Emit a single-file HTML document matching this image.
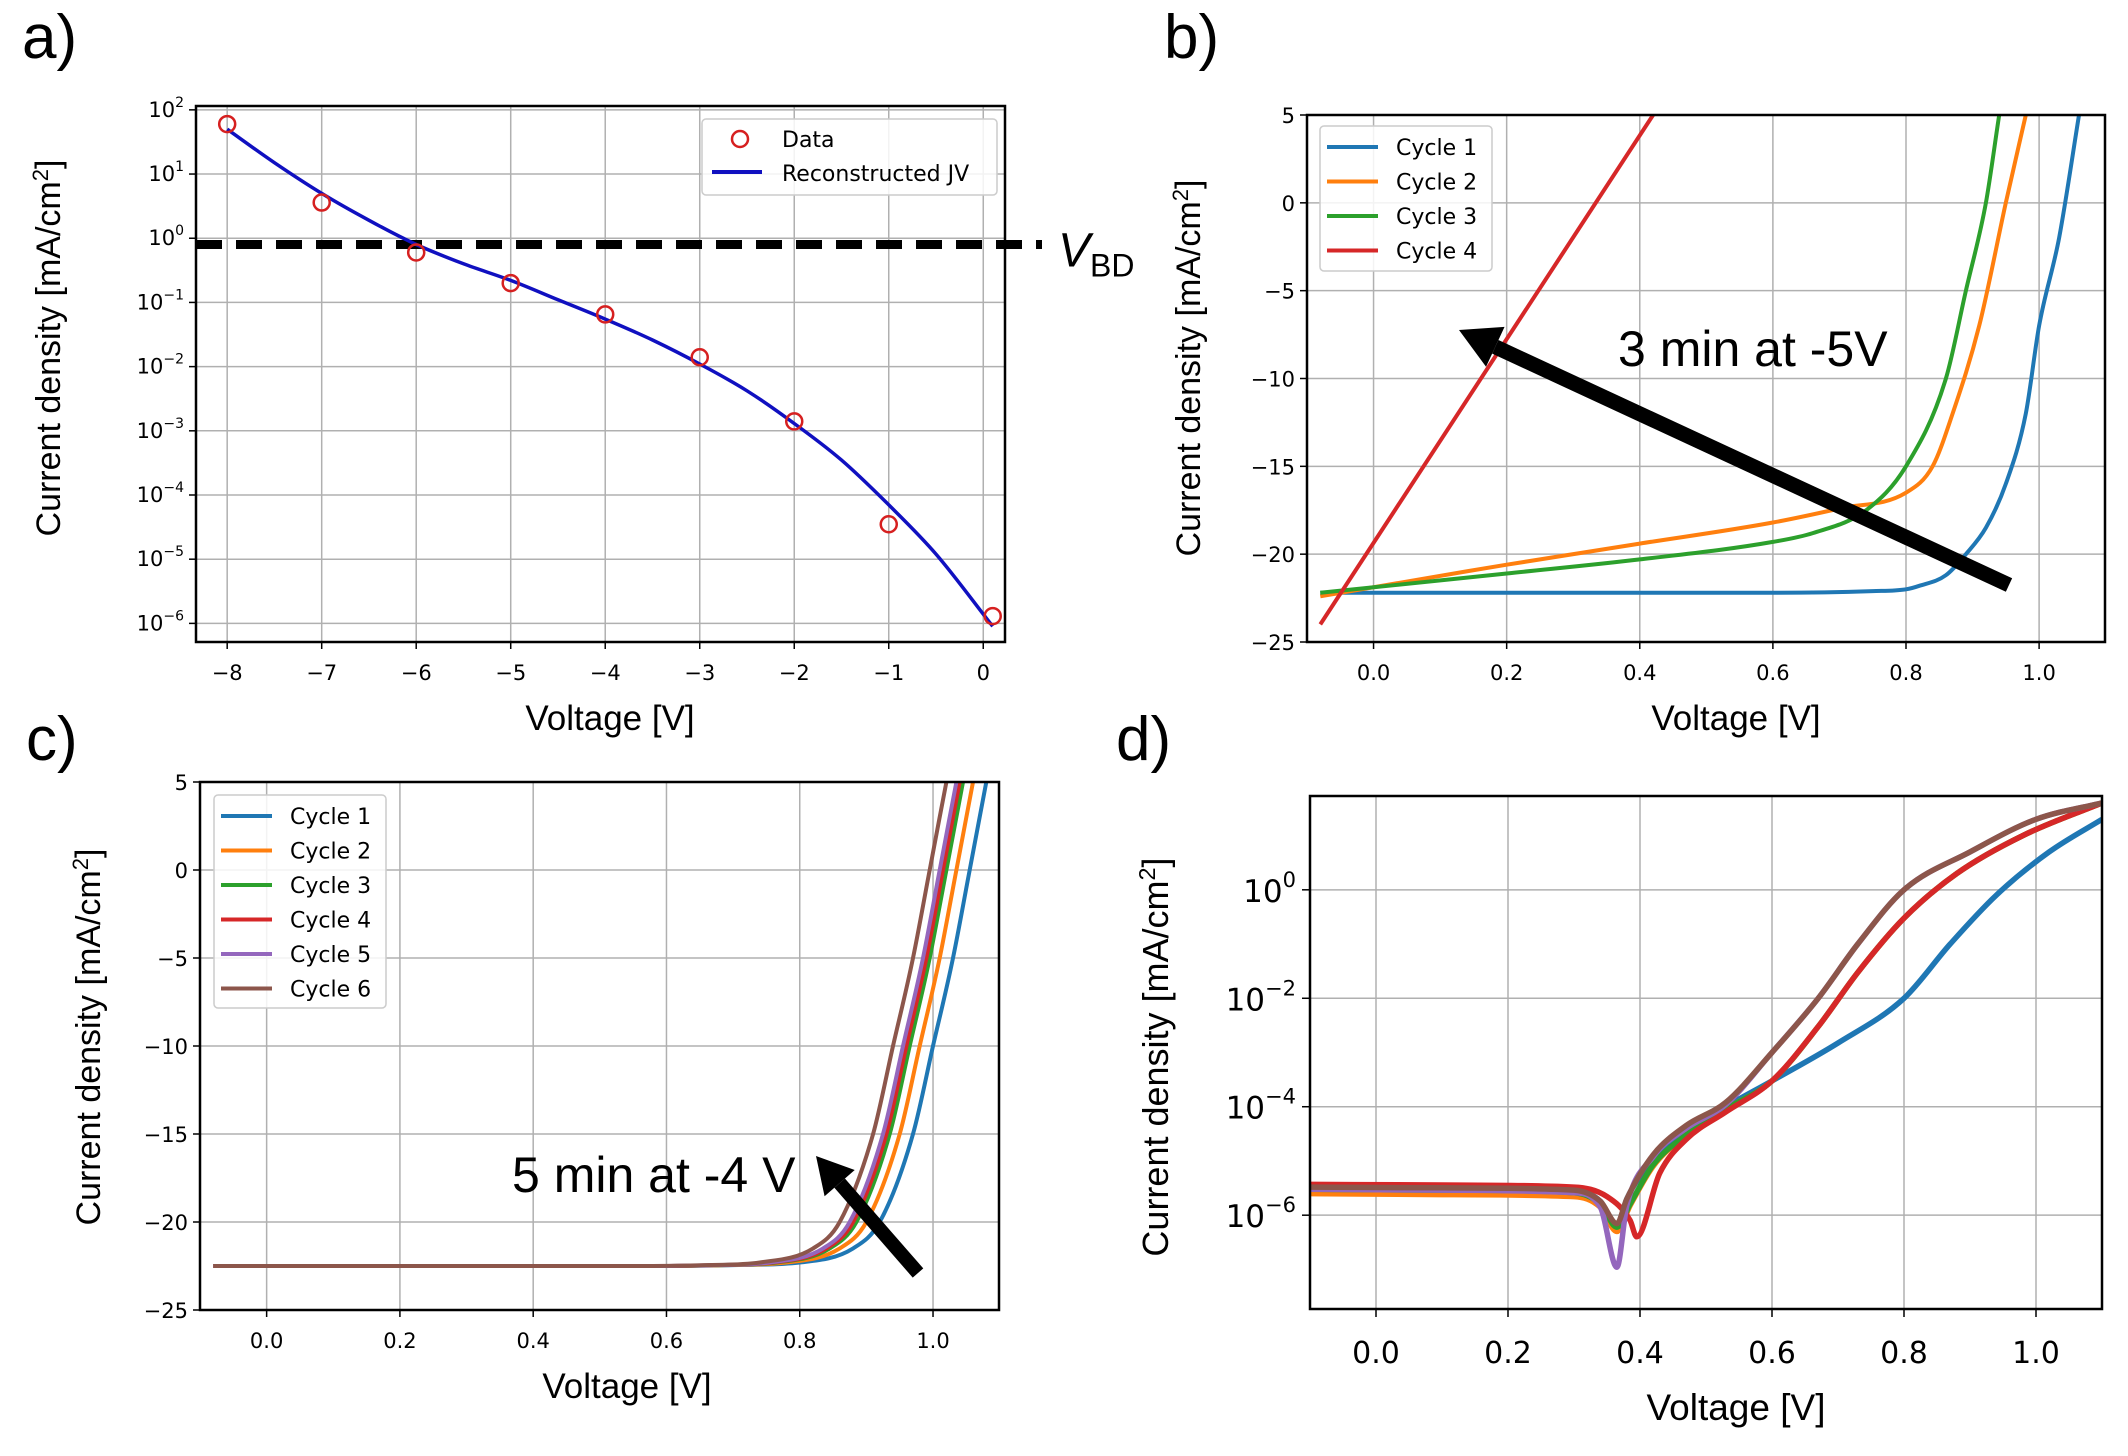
<!DOCTYPE html>
<html><head><meta charset="utf-8"><style>
body{margin:0;background:#fff}
svg{display:block}
text{font-family:"DejaVu Sans","Liberation Sans",sans-serif}
.big{font-family:"Liberation Sans","DejaVu Sans",sans-serif}
</style></head><body>
<svg id="fig" width="2128" height="1456" viewBox="0 0 2128 1456" xmlns="http://www.w3.org/2000/svg"></svg>
<script>
// ---- Panel a data ----
const aDataV = [-8,-7,-6,-5,-4,-3,-2,-1,0.1];
const aDataJ = [60,3.6,0.6,0.2,0.065,0.014,0.0014,3.5e-5,1.3e-6];
const aFitV = [-8,-7.5,-7,-6.5,-6,-5.5,-5,-4.5,-4,-3.5,-3,-2.5,-2,-1.5,-1,-0.5,0.1];
const aFitJ = [50,15,5,1.9,0.8,0.4,0.22,0.11,0.055,0.026,0.011,0.0042,0.0013,0.00035,7e-5,1.2e-5,9e-7];
const aVbd = 0.8;
const aXTicks = [-8,-7,-6,-5,-4,-3,-2,-1,0];
const aYTicks = [2,1,0,-1,-2,-3,-4,-5,-6];
// ---- Panel b data ----
const bV1 = [-0.08,0.2,0.4,0.6,0.75,0.8,0.82,0.86,0.89,0.92,0.95,0.98,1.0,1.03,1.06];
const bJ1 = [-22.2,-22.2,-22.2,-22.2,-22.1,-22.0,-21.8,-21.2,-20,-18.5,-16,-12,-7,-2,5];
const bV2 = [-0.08,0.2,0.4,0.6,0.7,0.8,0.84,0.87,0.91,0.95,0.98];
const bJ2 = [-22.4,-20.6,-19.4,-18.2,-17.4,-16.5,-15,-12,-7,0,5];
const bV3 = [-0.08,0.2,0.4,0.6,0.66,0.74,0.8,0.86,0.89,0.92,0.94];
const bJ3 = [-22.2,-21.1,-20.3,-19.3,-18.8,-17.5,-15,-10,-5,0,5];
const bV4 = [-0.08,0.42];
const bJ4 = [-24,5];
const linTicksX = [0,0.2,0.4,0.6,0.8,1.0];
const linTicksY = [5,0,-5,-10,-15,-20,-25];
// ---- Panel c data ----
const cV = [-0.08,0.3,0.6,0.7,0.8,0.88,0.92,0.97,1.0,1.03,1.055,1.08];
const cJ = [-22.5,-22.5,-22.5,-22.45,-22.3,-21.5,-20,-15,-10,-5,0,5];
const cShift = [0,-0.02,-0.035,-0.04,-0.045,-0.06];
// ---- Panel d data ----
const dV1 = [-0.1,0.1,0.3,0.34,0.365,0.38,0.42,0.47,0.53,0.6,0.7,0.8,0.87,0.94,1.02,1.1];
const dJ1 = [3.2e-6,3.1e-6,2.8e-6,1.8e-6,6e-7,2e-6,1e-5,3.5e-5,1e-4,3e-4,1.5e-3,1e-2,0.1,0.8,5,20];
const dV2 = [-0.1,0.1,0.3,0.34,0.365,0.385,0.42,0.47,0.53,0.6,0.67,0.73,0.8,0.88,0.98,1.1];
const dJ2 = [2.5e-6,2.4e-6,2.2e-6,1.4e-6,5e-7,1.5e-6,8e-6,3e-5,9e-5,3e-4,3e-3,0.03,0.3,2,10,40];
const dJ3 = [3.0e-6,2.9e-6,2.6e-6,1.6e-6,6e-7,1.6e-6,8.5e-6,3e-5,9e-5,3e-4,3e-3,0.03,0.3,2,10,40];
const dV4 = [-0.1,0.1,0.3,0.35,0.385,0.395,0.43,0.47,0.53,0.6,0.67,0.73,0.8,0.88,0.98,1.1];
const dJ4 = [3.7e-6,3.6e-6,3.3e-6,2.2e-6,8e-7,4e-7,6e-6,2.5e-5,8e-5,3e-4,3e-3,0.03,0.3,2,10,40];
const dV5 = [-0.1,0.1,0.3,0.34,0.365,0.38,0.42,0.47,0.53,0.6,0.67,0.73,0.8,0.9,1.0,1.1];
const dJ5 = [3.0e-6,2.9e-6,2.6e-6,1.4e-6,1.1e-7,1.5e-6,1.2e-5,4e-5,1.1e-4,1e-3,1e-2,0.1,1,5,20,40];
const dJ6 = [3.3e-6,3.2e-6,2.9e-6,1.8e-6,7e-7,2e-6,1.3e-5,4.5e-5,1.2e-4,1e-3,1e-2,0.1,1,5,20,40];
const dXTicks = [0,0.2,0.4,0.6,0.8,1.0];
const dYTicks = [0,-2,-4,-6];

const C = ['#1f77b4','#ff7f0e','#2ca02c','#d62728','#9467bd','#8c564b'];
const NS='http://www.w3.org/2000/svg';
const svg=document.getElementById('fig');
function el(tag,attrs,parent){const e=document.createElementNS(NS,tag);for(const k in attrs)e.setAttribute(k,attrs[k]);(parent||svg).appendChild(e);return e;}
function txt(s,attrs,parent){const e=el('text',attrs,parent);e.textContent=s;return e;}
function lin(d0,d1,p0,p1){return v=>p0+(v-d0)*(p1-p0)/(d1-d0);}
function logs(d0,d1,p0,p1){return v=>p0+(Math.log10(v)-d0)*(p1-p0)/(d1-d0);}
function pts(xs,ys,X,Y){return xs.map((x,i)=>X(x).toFixed(1)+','+Y(ys[i]).toFixed(1)).join(' ');}
// monotone cubic (Fritsch-Carlson) smooth path in pixel space
function smooth(xs,ys,X,Y){
  const px=xs.map(X),py=ys.map(Y),n=px.length;
  if(n<3) return 'M'+px.map((x,i)=>x.toFixed(1)+','+py[i].toFixed(1)).join(' L');
  const d=[],m=[];
  for(let i=0;i<n-1;i++) d.push((py[i+1]-py[i])/(px[i+1]-px[i]));
  m[0]=d[0];m[n-1]=d[n-2];
  for(let i=1;i<n-1;i++){ m[i]=(d[i-1]*d[i]<=0)?0:(d[i-1]+d[i])/2; }
  for(let i=0;i<n-1;i++){ if(d[i]===0){m[i]=0;m[i+1]=0;continue;}
    const a=m[i]/d[i],b=m[i+1]/d[i],s=a*a+b*b; if(s>9){const t=3/Math.sqrt(s);m[i]=t*a*d[i];m[i+1]=t*b*d[i];}}
  let p='M'+px[0].toFixed(1)+','+py[0].toFixed(1);
  for(let i=0;i<n-1;i++){const h=(px[i+1]-px[i])/3;
    p+=` C${(px[i]+h).toFixed(1)},${(py[i]+m[i]*h).toFixed(1)} ${(px[i+1]-h).toFixed(1)},${(py[i+1]-m[i+1]*h).toFixed(1)} ${px[i+1].toFixed(1)},${py[i+1].toFixed(1)}`;}
  return p;
}
function clip(id,x,y,w,h){const d=el('clipPath',{id:id});el('rect',{x:x,y:y,width:w,height:h},d);}

function frame(g,L,T,R,B){
  const r=el('rect',{x:L,y:T,width:R-L,height:B-T,fill:'none',stroke:'#000','stroke-width':2.5},g);
  
  
}
function grid(g,x,y1,y2,horiz){
  const l= horiz? el('line',{x1:y1,x2:y2,y1:x,y2:x,stroke:'#b0b0b0','stroke-width':1.5},g):el('line',{x1:x,x2:x,y1:y1,y2:y2,stroke:'#b0b0b0','stroke-width':1.5},g);
  
  
}
function ylabel(s,x,y,fs){
  const t=el('text',{x:x,y:y,'font-size':fs,'text-anchor':'middle',transform:`rotate(-90 ${x} ${y})`,class:'big'});
  
  
  t.innerHTML=s;
}
function xlabel(s,x,y,fs){
  const t=txt(s,{x:x,y:y,'font-size':fs,'text-anchor':'middle',class:'big'});
  
  
}
function plabel(s,x,y){
  const t=txt(s,{x:x,y:y,'font-size':62,class:'big'});
  
  
}
const YL='Current density [mA/cm<tspan font-size="0.65em" dy="-0.55em">2</tspan><tspan dy="0.35em">]</tspan>';

// ================= Panel a =================
(function(){
  const L=196,R=1005,T=106,B=642;
  const X=lin(-8.33,0.23,L,R), Y=logs(2.06,-6.29,T,B);
  const g=el('g',{});  
  clip('ca',L,T,R-L,B-T);
  aXTicks.forEach(v=>{grid(g,X(v),T,B);el('line',{x1:X(v),x2:X(v),y1:B,y2:B+7,stroke:'#000','stroke-width':1.5},g);
    const t=txt(String(v).replace('-','−'),{x:X(v),y:B+38,'font-size':21,'text-anchor':'middle'},g);
    });
  aYTicks.forEach(e=>{const y=Y(Math.pow(10,e));grid(g,y,L,R,true);el('line',{x1:L-7,x2:L,y1:y,y2:y,stroke:'#000','stroke-width':1.5},g);
    const t=el('text',{x:L-12,y:y+7,'font-size':21,'text-anchor':'end'},g);
    t.innerHTML='10<tspan font-size="14" dy="-10">'+String(e).replace('-','−')+'</tspan>';
    });
  const vb=el('line',{x1:L,x2:1042,y1:Y(aVbd),y2:Y(aVbd),stroke:'#000','stroke-width':9,'stroke-dasharray':'26,14'},g);
  
  const vt=el('text',{x:1058,y:Y(aVbd)+22,'font-size':48,class:'big'},g);
  vt.innerHTML='<tspan font-style="italic">V</tspan><tspan font-size="32" dy="10">BD</tspan>';
  
  const fit=el('path',{d:smooth(aFitV,aFitJ,X,Y),fill:'none',stroke:'#1010c0','stroke-width':3.5,'clip-path':'url(#ca)'},g);
  
  aDataV.forEach((v,i)=>{const c=el('circle',{cx:X(v),cy:Y(aDataJ[i]),r:8,fill:'none',stroke:'#d62020','stroke-width':2.5},g);
    });
  frame(g,L,T,R,B);
  const lg=el('g',{},g);
  el('rect',{x:702,y:119,width:295,height:76,rx:4,fill:'#fff','fill-opacity':0.85,stroke:'#ccc','stroke-width':1.5},lg);
  el('circle',{cx:740,cy:139,r:8,fill:'none',stroke:'#d62020','stroke-width':2.5},lg);
  txt('Data',{x:782,y:147,'font-size':22},lg);
  el('line',{x1:712,x2:762,y1:172,y2:172,stroke:'#1010c0','stroke-width':4},lg);
  txt('Reconstructed JV',{x:782,y:181,'font-size':22},lg);
  plabel('a)',22,58);
  ylabel(YL,60,348,34);
  xlabel('Voltage [V]',610,730,35);
})();

// generic linear JV panel
function linPanel(name,L,T,R,B,series,legendBox,cid){
  const X=lin(-0.1,1.099,L,R), Y=lin(5,-25,T,B);
  const g=el('g',{});  
  clip(cid,L,T,R-L,B-T);
  linTicksX.forEach(v=>{grid(g,X(v),T,B);el('line',{x1:X(v),x2:X(v),y1:B,y2:B+7,stroke:'#000','stroke-width':1.5},g);
    const t=txt(v.toFixed(1),{x:X(v),y:B+38,'font-size':21,'text-anchor':'middle'},g);
    });
  linTicksY.forEach(v=>{grid(g,Y(v),L,R,true);el('line',{x1:L-7,x2:L,y1:Y(v),y2:Y(v),stroke:'#000','stroke-width':1.5},g);
    const t=txt(String(v).replace('-','−'),{x:L-12,y:Y(v)+8,'font-size':21,'text-anchor':'end'},g);
    });
  series.forEach((s,i)=>{const p=el('path',{d:smooth(s[0],s[1],X,Y),fill:'none',stroke:C[i],'stroke-width':4,'clip-path':`url(#${cid})`},g);
    });
  frame(g,L,T,R,B);
  const [lx,ly,lw,lh,step]=legendBox;
  const lg=el('g',{},g);
  el('rect',{x:lx,y:ly,width:lw,height:lh,rx:4,fill:'#fff','fill-opacity':0.85,stroke:'#ccc','stroke-width':1.5},lg);
  series.forEach((s,i)=>{const yy=ly+21+i*step;
    el('line',{x1:lx+7,x2:lx+58,y1:yy,y2:yy,stroke:C[i],'stroke-width':4},lg);
    const t=txt('Cycle '+(i+1),{x:lx+76,y:yy+8,'font-size':22},lg);
    });
  return g;
}
function arrow(g,x1,y1,x2,y2,w,hw,hl){
  const dx=x2-x1,dy=y2-y1,len=Math.hypot(dx,dy),ux=dx/len,uy=dy/len;
  const bx=x2-ux*hl,by=y2-uy*hl;
  const a=el('g',{},g);
  el('line',{x1:x1,y1:y1,x2:bx,y2:by,stroke:'#000','stroke-width':w},a);
  el('polygon',{points:`${x2},${y2} ${bx-uy*hw},${by+ux*hw} ${bx+uy*hw},${by-ux*hw}`,fill:'#000'},a);
}

// ================= Panel b =================
(function(){
  const g=linPanel('panel-b',1307,115,2105,642,[[bV1,bJ1],[bV2,bJ2],[bV3,bJ3],[bV4,bJ4]],[1320,126,172,145,34.5],'cb');
  arrow(g,2009,585,1459,330,15,22,40);
  const t=txt('3 min at -5V',{x:1618,y:366,'font-size':50,class:'big'},g);
  
  plabel('b)',1164,58);
  ylabel(YL,1200,368,34);
  xlabel('Voltage [V]',1736,730,35);
})();

// ================= Panel c =================
(function(){
  const series=cShift.map(s=>[cV.map(v=>v<0.5?v:v+s*Math.min(1,(v-0.5)/0.3)),cJ]);
  const g=linPanel('panel-c',200,782,999,1310,series,[214,795,172,213,34.5],'cc');
  arrow(g,918,1273,816,1156,14,20,36);
  const t=txt('5 min at -4 V',{x:512,y:1192,'font-size':50,class:'big'},g);
  
  plabel('c)',26,760);
  ylabel(YL,100,1037,34);
  xlabel('Voltage [V]',627,1398,35);
})();

// ================= Panel d =================
(function(){
  const L=1310,R=2102,T=796,B=1309;
  const X=lin(-0.1,1.1,L,R), Y=logs(1.73,-7.73,T,B);
  const g=el('g',{});  
  clip('cd',L,T,R-L,B-T);
  dXTicks.forEach(v=>{grid(g,X(v),T,B);el('line',{x1:X(v),x2:X(v),y1:B,y2:B+8,stroke:'#000','stroke-width':1.5},g);
    const t=txt(v.toFixed(1),{x:X(v),y:B+54,'font-size':30,'text-anchor':'middle'},g);
    });
  dYTicks.forEach(e=>{const y=Y(Math.pow(10,e));grid(g,y,L,R,true);el('line',{x1:L-8,x2:L,y1:y,y2:y,stroke:'#000','stroke-width':1.5},g);
    const t=el('text',{x:L-14,y:y+12,'font-size':31,'text-anchor':'end'},g);
    t.innerHTML='10<tspan font-size="21" dy="-15">'+String(e).replace('-','−')+'</tspan>';
    });
  const ser=[[dV1,dJ1],[dV2,dJ2],[dV2,dJ3],[dV4,dJ4],[dV5,dJ5],[dV5,dJ6]];
  ser.forEach((s,i)=>{const p=el('path',{d:smooth(s[0],s[1],X,Y),fill:'none',stroke:C[i],'stroke-width':5.5,'stroke-linejoin':'round','clip-path':'url(#cd)'},g);
    });
  frame(g,L,T,R,B);
  plabel('d)',1116,760);
  ylabel(YL,1168,1057,36);
  xlabel('Voltage [V]',1736,1420,37);
})();
</script>
</body></html>
